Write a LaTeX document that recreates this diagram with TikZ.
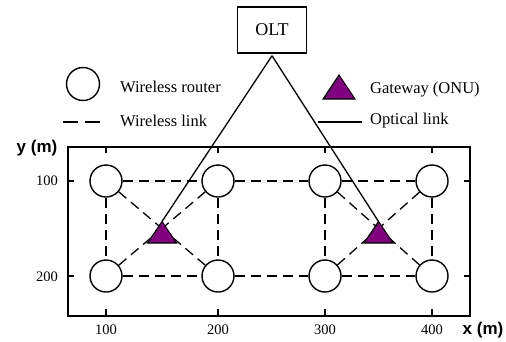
\documentclass[tikz,border=0pt]{standalone}
\usepackage{fontspec}
\setmainfont{Liberation Serif}
\newfontfamily\axisfont{Liberation Sans}
\usetikzlibrary{calc}
\definecolor{gwpurple}{RGB}{128,0,128}
\begin{document}
\begin{tikzpicture}[x=1pt,y=-1pt,
  router/.style={circle,draw,line width=1.4pt,fill=white,minimum size=32pt,inner sep=0pt},
  wlink/.style={line width=1.3pt,dash pattern=on 10pt off 6pt},
  olink/.style={line width=1.3pt},
  frame/.style={line width=1.6pt},
  lbl/.style={font=\fontsize{16.5}{18}\selectfont,anchor=west,inner sep=0pt},
  ticklbl/.style={font=\fontsize{14.5}{16}\selectfont,inner sep=0pt},
  axislbl/.style={font=\axisfont\bfseries\fontsize{17}{19}\selectfont,inner sep=0pt},
  gateway/.pic={
    \filldraw[fill=gwpurple,draw=black,line width=1.1pt] (0,-7) -- (14.5,14.5) -- (-14.5,14.5) -- cycle;
    \coordinate (-apex) at (0,-7);
  },
  bigtri/.pic={
    \filldraw[fill=gwpurple,draw=black,line width=1.1pt] (0,-12) -- (16,12) -- (-16,12) -- cycle;
  }]
\useasboundingbox (0,0) rectangle (506,341);

% OLT
\node[draw,line width=1.5pt,minimum width=69pt,minimum height=46pt,inner sep=0pt,
      font=\fontsize{18}{20}\selectfont] (olt) at (272,30) {OLT};

% legend
\node[circle,draw,line width=1.4pt,minimum size=33pt,inner sep=0pt] (legrouter) at (83,84) {};
\node[lbl] (legrouterlbl) at (120,87) {Wireless router};
\coordinate (legwa) at (63,122);
\coordinate (legwb) at (100,122);
\draw[line width=1.4pt,dash pattern=on 15pt off 7pt] (legwa) -- (legwb);
\node[lbl] (legwlbl) at (120,121) {Wireless link};
\pic at (339,87) {bigtri};
\node[lbl] (leggwlbl) at (370,90) {Gateway (ONU)};
\coordinate (legoa) at (318,122);
\coordinate (legob) at (362,122);
\draw[olink] (legoa) -- (legob);
\node[lbl] (legolbl) at (370,121) {Optical link};

% plot frame with ticks
\draw[frame] (68,147) rectangle (470,316);
\foreach \xx in {106,218,325,432} {
  \draw[line width=1.2pt] (\xx,147) -- (\xx,153);
  \draw[line width=1.2pt] (\xx,316) -- (\xx,309);
}
\foreach \yy in {181,276} {
  \draw[line width=1.2pt] (68,\yy) -- (74,\yy);
  \draw[line width=1.2pt] (470,\yy) -- (464,\yy);
}
\node[ticklbl] (ty1) at (47,181) {100};
\node[ticklbl] (ty2) at (47,277) {200};
\node[ticklbl] (tx1) at (106,330) {100};
\node[ticklbl] (tx2) at (218,330) {200};
\node[ticklbl] (tx3) at (325,330) {300};
\node[ticklbl] (tx4) at (432,330) {400};
\node[axislbl] (ylab) at (37,148) {y (m)};
\node[axislbl] (xlab) at (483,330) {x (m)};

% routers
\node[router] (a1) at (106,181) {};
\node[router] (a2) at (218,181) {};
\node[router] (a3) at (325,181) {};
\node[router] (a4) at (432,181) {};
\node[router] (b1) at (106,276) {};
\node[router] (b2) at (218,276) {};
\node[router] (b3) at (325,276) {};
\node[router] (b4) at (432,276) {};

% gateways
\coordinate (g1) at (162,228.5);
\coordinate (g2) at (378.5,228.5);

% wireless links
\draw[wlink] (a1) -- (a2);
\draw[wlink] (a2) -- (a3);
\draw[wlink] (a3) -- (a4);
\draw[wlink] (b1) -- (b2);
\draw[wlink] (b2) -- (b3);
\draw[wlink] (b3) -- (b4);
\draw[wlink] (a1) -- (b1);
\draw[wlink] (a2) -- (b2);
\draw[wlink] (a3) -- (b3);
\draw[wlink] (a4) -- (b4);
\draw[wlink] (a1) -- (g1);
\draw[wlink] (a2) -- (g1);
\draw[wlink] (b1) -- (g1);
\draw[wlink] (b2) -- (g1);
\draw[wlink] (a3) -- (g2);
\draw[wlink] (a4) -- (g2);
\draw[wlink] (b3) -- (g2);
\draw[wlink] (b4) -- (g2);

\pic (gwA) at (g1) {gateway};
\pic (gwB) at (g2) {gateway};

% optical links
\coordinate (oltfoot) at ($(olt.south)+(0,2)$);
\draw[olink] (oltfoot) -- (gwA-apex);
\draw[olink] (oltfoot) -- (gwB-apex);
\end{tikzpicture}
\end{document}
